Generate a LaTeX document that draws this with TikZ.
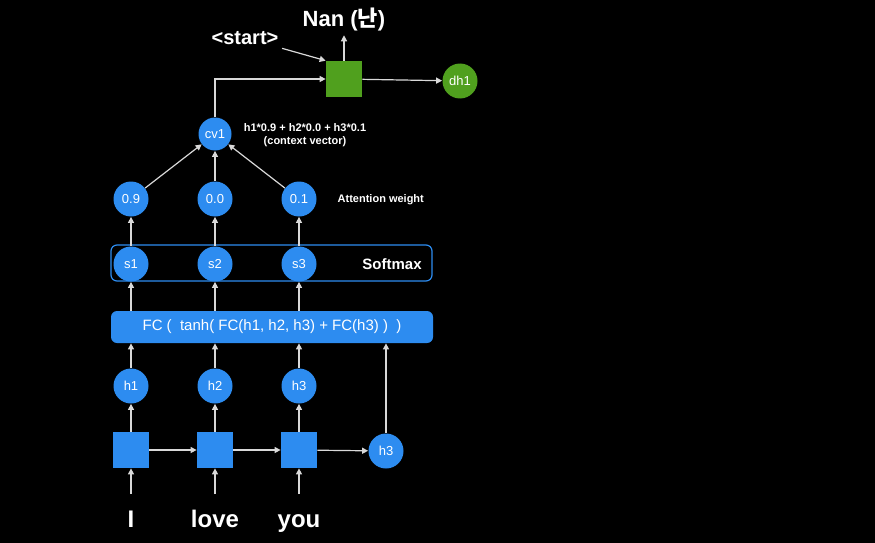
\documentclass[tikz,border=0pt]{standalone}
\usepackage{fontspec}
\setmainfont{Liberation Sans}
\newfontfamily\cjk{Noto Sans CJK KR}
\usetikzlibrary{arrows.meta}
\tikzset{every picture/.style={line width=0.75pt}}
\definecolor{cellblue}{RGB}{45,140,240}
\definecolor{cellgreen}{RGB}{80,160,30}
\tikzset{
  cell/.style={draw=none,fill=cellblue,minimum width=36pt,minimum height=36pt,inner sep=0pt},
  unit/.style={circle,fill=cellblue,minimum size=35pt,inner sep=0pt,text=white,font=\fontsize{13}{13}\selectfont},
  arr/.style={draw=white!85!black,line width=1.2pt,-{Triangle[length=6pt,width=6pt]}},
  lbl/.style={text=white,font=\bfseries\fontsize{11}{13}\selectfont,align=center},
  word/.style={text=white,font=\bfseries\fontsize{24}{24}\selectfont}
}
\begin{document}
\begin{tikzpicture}[x=1pt,y=1pt,yscale=-1,xscale=1]
\fill [black] (0,0) rectangle (875,543);

% encoder
\node [cell] (e1) at (131,450) {};
\node [cell] (e2) at (215,450) {};
\node [cell] (e3) at (299,450) {};
\node [unit] (hl) at (386,451) {h3};
\node [word,anchor=base] (w1) at (131,527) {I};
\node [word,anchor=base] (w2) at (215,527) {love};
\node [word,anchor=base] (w3) at (299,527) {you};
\draw [arr] (e1) -- (e2);
\draw [arr] (e2) -- (e3);
\draw [arr] (e3) -- (hl);
\foreach \i in {1,2,3}{
  \draw [arr] (w\i.north |- 0,494) -- (e\i);
}

% hidden states
\node [unit] (h1) at (131,386) {h1};
\node [unit] (h2) at (215,386) {h2};
\node [unit] (h3) at (299,386) {h3};

% score layer
\node [draw=none,fill=cellblue,rounded corners=6pt,minimum width=322pt,minimum height=32pt,text=white,font=\fontsize{15}{15}\selectfont] (fc) at (272,327) {FC (\ \ tanh( FC(h1, h2, h3) + FC(h3) )\ \ )};
\node [draw=cellblue,line width=1.2pt,rounded corners=6pt,minimum width=321pt,minimum height=36pt] (sm) at (271.5,263) {};
\node [unit] (s1) at (131,264) {s1};
\node [unit] (s2) at (215,264) {s2};
\node [unit] (s3) at (299,264) {s3};
\node [lbl,font=\bfseries\fontsize{15}{15}\selectfont] (smt) at (392,264) {Softmax};

% attention weights
\node [unit] (a1) at (131,199) {0.9};
\node [unit] (a2) at (215,199) {0.0};
\node [unit] (a3) at (299,199) {0.1};
\node [lbl,anchor=west] (awt) at (334,200) {Attention weight};

\foreach \i in {1,2,3}{
  \draw [arr] (e\i) -- (h\i);
  \draw [arr] (h\i) -- (h\i |- fc.south);
  \draw [arr] (h\i |- fc.north) -- (s\i);
  \draw [arr] (s\i) -- (a\i);
}
\draw [arr] (hl) -- (hl |- fc.south);

% context vector
\node [unit,minimum size=33pt] (cv) at (215,134) {cv1};
\node [lbl] (cvt) at (305,135) {h1*0.9 + h2*0.0 + h3*0.1\\(context vector)};
\foreach \i in {1,2,3}{
  \draw [arr] (a\i) -- (cv);
}

% decoder
\node [cell,fill=cellgreen] (d1) at (344,79) {};
\node [unit,fill=cellgreen] (dh) at (460,81) {dh1};
\node [word,font=\bfseries\fontsize{22}{22}\selectfont] (out) at (344,20) {Nan ({\cjk 난})};
\node [word,font=\bfseries\fontsize{20}{20}\selectfont] (st) at (245,38) {<start>};
\draw [arr] (cv) |- (d1);
\draw [arr] (st.south east) -- (d1.north west);
\draw [arr] (d1) -- (out);
\draw [arr] (d1) -- (dh);
\end{tikzpicture}
\end{document}
